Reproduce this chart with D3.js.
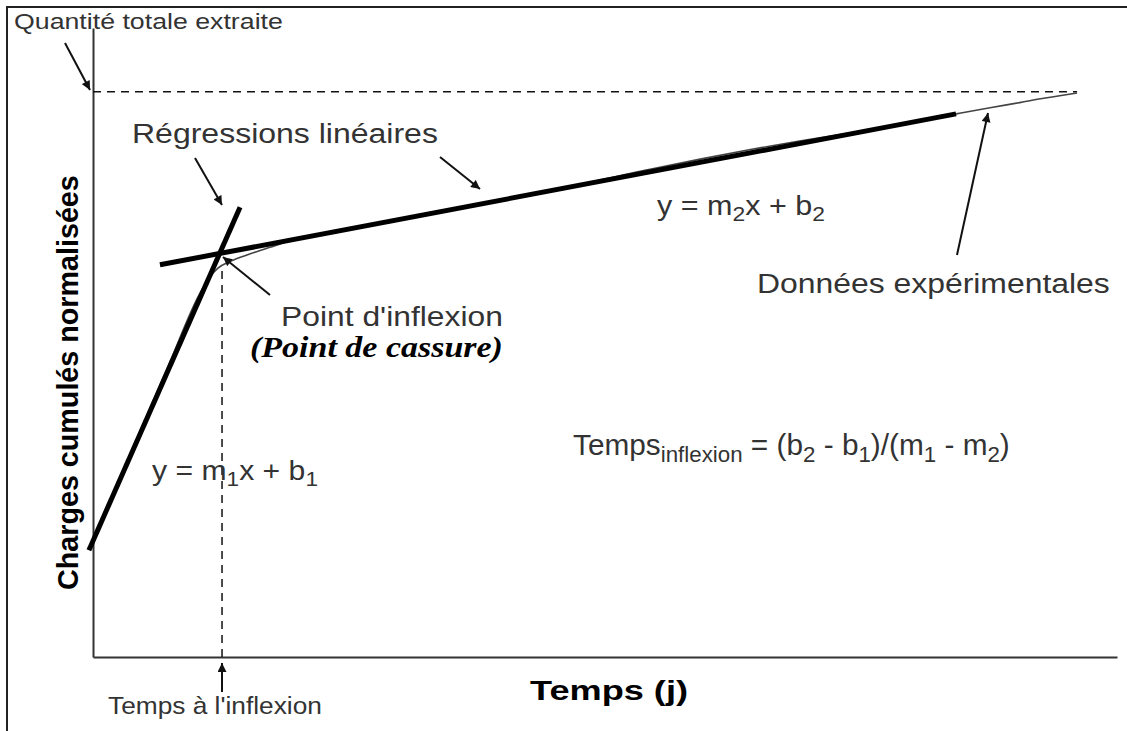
<!DOCTYPE html>
<html lang="fr">
<head>
<meta charset="utf-8">
<title>Point d'inflexion</title>
<script src="https://d3js.org/d3.v7.min.js"></script>
<style>
  body { margin:0; background:#fff; }
  svg { display:block; }
  .lbl { font-family: "Liberation Sans", Arial, sans-serif; fill:#333; }
  .bold { font-weight:bold; fill:#000; }
  .serif { font-family: "Liberation Serif", "Times New Roman", serif; font-weight:bold; font-style:italic; fill:#000; }
</style>
</head>
<body>
<div id="chart"></div>
<script>
// temps (unités arbitraires) et charges normalisées (1 = quantité totale extraite)
var dataT = [-0.3, 3.6, 7.5, 10.45, 11.4, 12.2, 13.4, 15.3, 17.3, 19.2, 25.1, 34.9, 44.6, 54.4, 59.3, 64.2, 69.0, 73.9, 78.8, 84.3, 87.6, 90.5, 93.0, 94.4, 96.1];
var dataV = [0.193, 0.358, 0.522, 0.644, 0.672, 0.688, 0.700, 0.713, 0.725, 0.736, 0.758, 0.792, 0.825, 0.863, 0.881, 0.898, 0.913, 0.927, 0.942, 0.961, 0.972, 0.981, 0.989, 0.993, 0.998];

// régressions linéaires (extrémités)
var reg1T = [-0.4, 14.36], reg1V = [0.189, 0.796];
var reg2T = [6.54, 84.28], reg2V = [0.694, 0.961];

var totalV = 1.0, totalEndT = 96.1;
var inflexionT = 12.6, inflexionV = 0.69;

var W = 1127, H = 731;
var x = d3.scaleLinear().domain([0, 100]).range([93, 1117]);
var y = d3.scaleLinear().domain([0, 1.113]).range([657, 28]);

var svg = d3.select("#chart").append("svg")
  .attr("width", W).attr("height", H);

svg.append("rect").attr("width", W).attr("height", H).attr("fill", "#fff");

// cadre
svg.append("path").attr("d", "M7,731 V7 H1127")
  .attr("fill", "none").attr("stroke", "#222").attr("stroke-width", 2);

var defs = svg.append("defs");
defs.append("marker").attr("id", "arr")
  .attr("viewBox", "0 0 10 10").attr("refX", 10).attr("refY", 5)
  .attr("markerWidth", 10).attr("markerHeight", 9)
  .attr("markerUnits", "userSpaceOnUse").attr("orient", "auto")
  .append("path").attr("d", "M0,0 L10,5 L0,10 z").attr("fill", "#111");

// axes sans graduations
svg.append("g").attr("transform", "translate(0," + y(0) + ")")
  .call(d3.axisBottom(x).tickValues([]).tickSizeOuter(0))
  .select(".domain").attr("stroke", "#333").attr("stroke-width", 2);
svg.append("g").attr("transform", "translate(" + x(0) + ",0)")
  .call(d3.axisLeft(y).tickValues([]).tickSizeOuter(0))
  .select(".domain").attr("stroke", "#333").attr("stroke-width", 2);

var line = d3.line().x(function(d) { return x(d[0]); }).y(function(d) { return y(d[1]); });

// quantité totale
svg.append("path").attr("d", line([[0, totalV], [totalEndT, totalV]]))
  .attr("stroke", "#111").attr("stroke-width", 1.5).attr("stroke-dasharray", "8,6").attr("fill", "none");
// temps à l'inflexion
svg.append("path").attr("d", line([[inflexionT, 0], [inflexionT, inflexionV]]))
  .attr("stroke", "#111").attr("stroke-width", 1.5).attr("stroke-dasharray", "8,6").attr("fill", "none");

// données expérimentales
var pts = dataT.map(function(t, i) { return [t, dataV[i]]; });
svg.append("path").attr("d", d3.line().curve(d3.curveMonotoneX)
    .x(function(d) { return x(d[0]); }).y(function(d) { return y(d[1]); })(pts))
  .attr("fill", "none").attr("stroke", "#444").attr("stroke-width", 1.6);

// régressions
[[reg1T, reg1V], [reg2T, reg2V]].forEach(function(r) {
  svg.append("path").attr("d", line(r[0].map(function(t, i) { return [t, r[1][i]]; })))
    .attr("stroke", "#000").attr("stroke-width", 5).attr("fill", "none");
});

// flèches d'annotation
var arrows = [
  [65, 43, 90, 90],
  [195, 158, 222, 205],
  [440, 157, 480, 189],
  [270, 295, 223, 257],
  [957, 255, 988, 113],
  [222, 692, 222, 663]
];
svg.selectAll(".arrow").data(arrows).enter().append("line")
  .attr("x1", function(d) { return d[0]; }).attr("y1", function(d) { return d[1]; })
  .attr("x2", function(d) { return d[2]; }).attr("y2", function(d) { return d[3]; })
  .attr("stroke", "#111").attr("stroke-width", 2).attr("marker-end", "url(#arr)");

// textes: [parts, x, baseline, largeur, taille, classe]
function sub(t) { return { t: t, sub: true }; }
var labels = [
  [["Quantité totale extraite"], 14, 29, 269, 22, "lbl"],
  [["Régressions linéaires"], 132, 143, 306, 28, "lbl"],
  [["y = m", sub("2"), "x + b", sub("2")], 657, 215, 168, 28, "lbl"],
  [["Données expérimentales"], 757, 293, 353, 28, "lbl"],
  [["Point d'inflexion"], 281, 326, 222, 28, "lbl"],
  [["(Point de cassure)"], 250, 357, 253, 30, "serif"],
  [["Temps", sub("inflexion"), " = (b", sub("2"), " - b", sub("1"), ")/(m", sub("1"), " - m", sub("2"), ")"], 573, 455, 437, 30, "lbl"],
  [["y = m", sub("1"), "x + b", sub("1")], 152, 480, 166, 28, "lbl"],
  [["Temps à l'inflexion"], 108, 714, 214, 24, "lbl"],
  [["Temps (j)"], 530, 700, 158, 28, "lbl bold"]
];

function addText(g, parts, size, cls) {
  var t = g.append("text").attr("class", cls).style("font-size", size + "px");
  var low = false;
  parts.forEach(function(p) {
    if (typeof p === "string") {
      t.append("tspan").attr("dy", low ? -size * 0.22 : 0).text(p);
      low = false;
    } else {
      t.append("tspan").attr("dy", low ? 0 : size * 0.22).style("font-size", (size * 0.75) + "px").text(p.t);
      low = true;
    }
  });
  return t;
}

labels.forEach(function(l) {
  var g = svg.append("g");
  var t = addText(g, l[0], l[4], l[5]);
  var bb = t.node().getBBox();
  var k = l[3] / bb.width;
  g.attr("transform", "translate(" + (l[1] - bb.x * k) + "," + l[2] + ") scale(" + k + ",1)");
});

// titre axe y (vertical)
var gy = svg.append("g");
var ty = gy.append("text").attr("class", "lbl bold").style("font-size", "29px").text("Charges cumulés normalisées");
var byy = ty.node().getBBox();
var ky = 415 / byy.width;
gy.attr("transform", "translate(78,590) rotate(-90) scale(" + ky + ",1)");
</script>
</body>
</html>
